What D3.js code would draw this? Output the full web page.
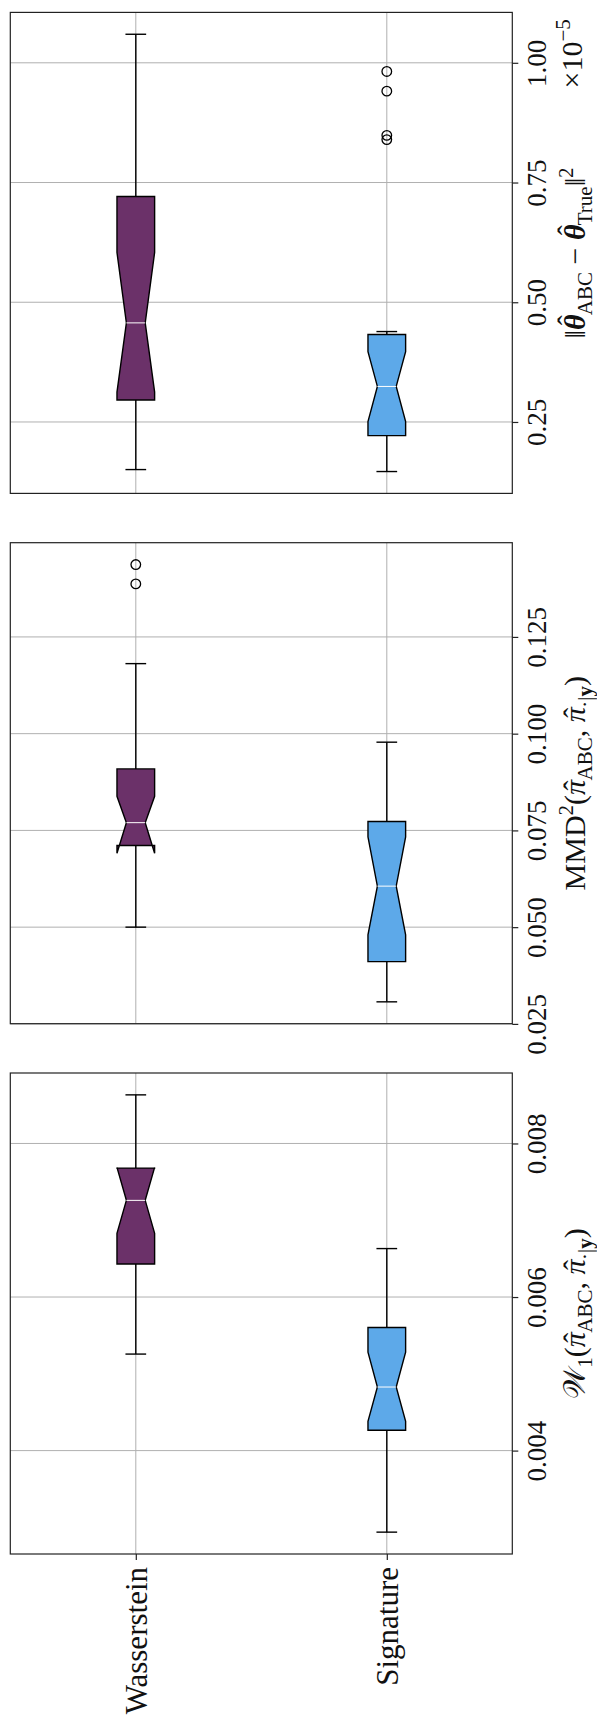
<!DOCTYPE html>
<html>
<head>
<meta charset="utf-8">
<script src="https://cdn.jsdelivr.net/npm/d3@7"></script>
<style>
  body { margin: 0; background: #fff; }
  svg text { font-family: "Liberation Serif", "Times New Roman", serif; fill: #111; }
</style>
</head>
<body>
<div id="chart"></div>
<script>
// boxes, order: whiskerLo, q1, notchLo, median, notchHi, q3, whiskerHi
const categories = ["Wasserstein", "Signature"];

// ||theta_ABC - theta_True||^2  (x 1e-5)
const thetaWasserstein = [0.1506, 0.2958, 0.3125, 0.4569, 0.6040, 0.7208, 1.0596];
const thetaSignature = [0.1465, 0.2215, 0.2506, 0.3242, 0.3970, 0.4325, 0.4388];
const thetaOutWasserstein = [];
const thetaOutSignature = [0.9819, 0.9408, 0.8485, 0.8396];
const thetaTicks = [0.25, 0.50, 0.75, 1.00];

// MMD^2
const mmdWasserstein = [0.0500, 0.0711, 0.0691, 0.0770, 0.0838, 0.0909, 0.1181];
const mmdSignature = [0.0307, 0.0411, 0.0480, 0.0606, 0.0733, 0.0773, 0.0978];
const mmdOutWasserstein = [0.1437, 0.1387];
const mmdOutSignature = [];
const mmdTicks = [0.025, 0.050, 0.075, 0.100, 0.125];

// W_1
const w1Wasserstein = [0.005257, 0.006431, 0.006830, 0.007259, 0.007688, 0.007679, 0.008633];
const w1Signature = [0.002938, 0.004264, 0.004381, 0.004828, 0.005283, 0.005604, 0.006631];
const w1OutWasserstein = [];
const w1OutSignature = [];
const w1Ticks = [0.004, 0.006, 0.008];

const boxColors = ["#6b3169", "#5da9e9"];

const width = 597, height = 1719;
const frame = { left: 10.3, right: 512.3, top: 12.4 };
const panelH = 481, panelGap = 49.3;
const tickSize = 27, labelSize = 30, smallSize = 21;
const serif = "'Liberation Serif', 'Times New Roman', serif";

// label pieces (sub/sup/hat handled by mathText)
const panels = [
  {
    boxes: [thetaWasserstein, thetaSignature],
    outliers: [thetaOutWasserstein, thetaOutSignature],
    ticks: thetaTicks, fmt: d3.format(".2f"),
    label: [
      { t: "‖" }, { t: "θ", b: true, i: true, hat: 7 }, { t: "ABC", sub: true },
      { t: " − " }, { t: "θ", b: true, i: true, hat: 7 }, { t: "True", sub: true },
      { t: "‖" }, { t: "2", sup: true }
    ],
    offset: [{ t: "×10" }, { t: "−5", sup: true }]
  },
  {
    boxes: [mmdWasserstein, mmdSignature],
    outliers: [mmdOutWasserstein, mmdOutSignature],
    ticks: mmdTicks, fmt: d3.format(".3f"),
    label: [
      { t: "MMD" }, { t: "2", sup: true }, { t: "(" }, { t: "π", i: true, hat: 1 },
      { t: "ABC", sub: true }, { t: ", " }, { t: "π", i: true, hat: 1 },
      { t: "·|", sub: true }, { t: "y", sub: true, b: true }, { t: ")" }
    ]
  },
  {
    boxes: [w1Wasserstein, w1Signature],
    outliers: [w1OutWasserstein, w1OutSignature],
    ticks: w1Ticks, fmt: d3.format(".3f"),
    label: [
      { t: "𝒲" }, { t: "1", sub: true }, { t: "(" }, { t: "π", i: true, hat: 1 },
      { t: "ABC", sub: true }, { t: ", " }, { t: "π", i: true, hat: 1 },
      { t: "·|", sub: true }, { t: "y", sub: true, b: true }, { t: ")" }
    ]
  }
];

// write a label made of pieces, shifting sub/superscripts, putting hats over letters
const mathText = (sel, parts) => {
  let shift = 0;
  parts.forEach(p => {
    const target = p.sub ? 7 : p.sup ? -12 : 0;
    const ts = sel.append("tspan")
      .attr("dy", target - shift)
      .text(p.t);
    shift = target;
    if (p.sub || p.sup) ts.attr("font-size", smallSize);
    if (p.b) ts.attr("font-weight", "bold");
    if (p.i) ts.attr("font-style", "italic");
    if (p.hat !== undefined) {
      const w = ts.node().getComputedTextLength();
      const h = sel.append("tspan").text("ˆ")
        .attr("dy", -p.hat)
        .attr("font-size", labelSize);
      const hw = h.node().getComputedTextLength();
      const a = w / 2 + hw / 2;
      h.attr("dx", -a + (p.i ? 2 : 0));
      shift -= p.hat;
      // move the pen back to the end of the letter
      sel.append("tspan").text("")
        .attr("dx", w / 2 - hw / 2 - (p.i ? 2 : 0));
    }
  });
};

const svg = d3.select("#chart")
  .append("svg")
    .attr("width", width)
    .attr("height", height);

const xScale = d3.scalePoint()
  .domain(categories)
  .range([frame.left, frame.right])
  .padding(0.5);
const boxW = xScale.step() * 0.15;
const capW = boxW * 0.55;
const notchIn = boxW * 0.25;

panels.forEach((panel, i) => {
  const top = frame.top + i * (panelH + panelGap);
  const bottom = top + panelH;

  // matplotlib-like autoscale: data extent plus 5%
  const allVals = panel.boxes.flatMap((b, k) => [b[0], b[6], ...panel.outliers[k]]);
  const [lo, hi] = d3.extent(allVals);
  const pad = (hi - lo) * 0.05;
  const yScale = d3.scaleLinear()
    .domain([lo - pad, hi + pad])
    .range([bottom, top]);

  const g = svg.append("g");

  //grid
  g.selectAll(".hgrid")
    .data(panel.ticks)
    .join("line")
      .attr("class", "hgrid")
      .attr("x1", frame.left).attr("x2", frame.right)
      .attr("y1", d => yScale(d)).attr("y2", d => yScale(d))
      .attr("stroke", "#b0b0b0")
      .attr("stroke-width", 1);
  g.selectAll(".vgrid")
    .data(categories)
    .join("line")
      .attr("class", "vgrid")
      .attr("x1", d => xScale(d)).attr("x2", d => xScale(d))
      .attr("y1", top).attr("y2", bottom)
      .attr("stroke", "#b0b0b0")
      .attr("stroke-width", 1);

  //value axis on the right, labels turned
  const yAxis = g.append("g")
    .attr("transform", `translate(${frame.right},0)`)
    .call(d3.axisRight(yScale)
      .tickValues(panel.ticks)
      .tickFormat(panel.fmt)
      .tickSize(6));
  yAxis.attr("font-family", null);
  yAxis.select(".domain").remove();
  yAxis.selectAll(".tick line").attr("stroke", "#222").attr("stroke-width", 1.2);
  yAxis.selectAll(".tick text")
    .attr("x", null).attr("dy", null)
    .attr("transform", "translate(33.5,0) rotate(-90)")
    .attr("text-anchor", "middle")
    .style("font-family", serif)
    .style("font-size", tickSize + "px")
    .attr("fill", "#111");

  //category axis only under the last panel
  if (i === panels.length - 1) {
    const xAxis = g.append("g")
      .attr("transform", `translate(0,${bottom})`)
      .call(d3.axisBottom(xScale).tickSize(6));
    xAxis.attr("font-family", null);
    xAxis.select(".domain").remove();
    xAxis.selectAll(".tick line").attr("stroke", "#222").attr("stroke-width", 1.2);
    xAxis.selectAll(".tick text")
      .attr("y", null).attr("dy", null)
      .attr("transform", "translate(11,13) rotate(-90)")
      .attr("text-anchor", "end")
      .style("font-family", serif)
      .style("font-size", "31px")
      .attr("fill", "#111");
  }

  //boxes
  categories.forEach((cat, k) => {
    const [wLo, q1, nLo, med, nHi, q3, wHi] = panel.boxes[k];
    const cx = xScale(cat);
    const left = cx - boxW / 2, right = cx + boxW / 2;

    // whiskers + caps
    g.append("line")
      .attr("x1", cx).attr("x2", cx)
      .attr("y1", yScale(q1)).attr("y2", yScale(wLo))
      .attr("stroke", "#000").attr("stroke-width", 1.4);
    g.append("line")
      .attr("x1", cx).attr("x2", cx)
      .attr("y1", yScale(q3)).attr("y2", yScale(wHi))
      .attr("stroke", "#000").attr("stroke-width", 1.4);
    [wLo, wHi].forEach(v => {
      g.append("line")
        .attr("x1", cx - capW / 2).attr("x2", cx + capW / 2)
        .attr("y1", yScale(v)).attr("y2", yScale(v))
        .attr("stroke", "#000").attr("stroke-width", 1.4);
    });

    // notched box, same path order as matplotlib
    const pts = [
      [left, q1], [right, q1], [right, nLo], [right - notchIn, med], [right, nHi],
      [right, q3], [left, q3], [left, nHi], [left + notchIn, med], [left, nLo]
    ];
    g.append("path")
      .attr("d", d3.line().x(d => d[0]).y(d => yScale(d[1]))(pts) + "Z")
      .attr("fill", boxColors[k])
      .attr("stroke", "#000")
      .attr("stroke-width", 1.4)
      .attr("stroke-linejoin", "miter");

    g.append("line")
      .attr("x1", left + notchIn).attr("x2", right - notchIn)
      .attr("y1", yScale(med)).attr("y2", yScale(med))
      .attr("stroke", "#fff").attr("stroke-width", 1);

    g.selectAll(`.out-${k}`)
      .data(panel.outliers[k])
      .join("circle")
        .attr("class", `out-${k}`)
        .attr("cx", cx)
        .attr("cy", d => yScale(d))
        .attr("r", 4.8)
        .attr("fill", "none")
        .attr("stroke", "#000")
        .attr("stroke-width", 1.3);
  });

  //frame
  g.append("rect")
    .attr("x", frame.left).attr("y", top)
    .attr("width", frame.right - frame.left).attr("height", panelH)
    .attr("fill", "none")
    .attr("stroke", "#222")
    .attr("stroke-width", 1.2);

  //axis label
  const lab = g.append("text")
    .attr("transform", `translate(585,${(top + bottom) / 2}) rotate(-90)`)
    .attr("text-anchor", "middle")
    .style("font-family", serif)
    .attr("font-size", labelSize);
  mathText(lab, panel.label);

  if (panel.offset) {
    const off = g.append("text")
      .attr("transform", `translate(582,${top + 76}) rotate(-90)`)
      .attr("text-anchor", "start")
      .style("font-family", serif)
      .attr("font-size", labelSize);
    mathText(off, panel.offset);
  }
});
</script>
</body>
</html>
